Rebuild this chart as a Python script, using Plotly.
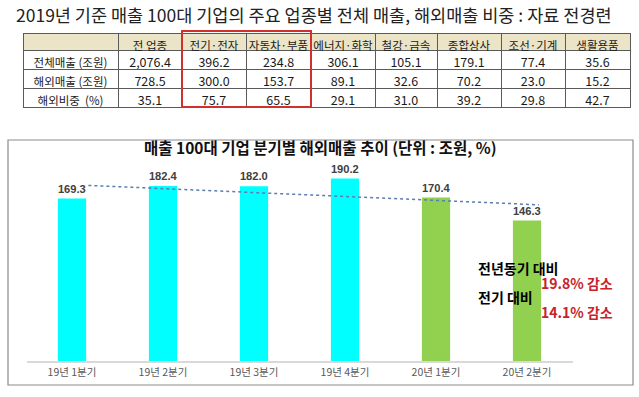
import numpy as np
import plotly.graph_objects as go

W, H = 639, 397

# ---------------- data ----------------
sectors = ["전 업종", "전기·전자", "자동차·부품", "에너지·화학", "철강·금속", "종합상사", "조선·기계", "생활용품"]
row_labels = ["전체매출 (조원)", "해외매출 (조원)", "해외비중  (%)"]
total_sales = [2076.4, 396.2, 234.8, 306.1, 105.1, 179.1, 77.4, 35.6]
overseas_sales = [728.5, 300.0, 153.7, 89.1, 32.6, 70.2, 23.0, 15.2]
overseas_share = [35.1, 75.7, 65.5, 29.1, 31.0, 39.2, 29.8, 42.7]

quarters = ["19년 1분기", "19년 2분기", "19년 3분기", "19년 4분기", "20년 1분기", "20년 2분기"]
quarter_values = [169.3, 182.4, 182.0, 190.2, 170.4, 146.3]
quarter_years = [2019, 2019, 2019, 2019, 2020, 2020]

note_labels = ["전년동기 대비", "전기 대비"]
note_values = ["19.8% 감소", "14.1% 감소"]

top_title = "2019년 기준 매출 100대 기업의 주요 업종별 전체 매출, 해외매출 비중 : 자료 전경련"
chart_title = "매출 100대 기업 분기별 해외매출 추이 (단위 : 조원, %)"


def px(x):
    return x / W


def py(y):
    return 1 - y / H


KR = "Noto Sans CJK KR"

fig = go.Figure()

# ---------------- table ----------------
col_widths = [95, 64, 64, 65, 64, 62, 64, 64, 65]
header_vals = [""] + sectors
cell_vals = [row_labels] + [
    [f"{t:,.1f}", f"{o:,.1f}", f"{s:.1f}"]
    for t, o, s in zip(total_sales, overseas_sales, overseas_share)
]

fig.add_trace(go.Table(
    domain=dict(x=[px(23), px(630)], y=[py(108), py(33)]),
    columnwidth=col_widths,
    header=dict(
        values=header_vals,
        fill_color="#ECE4C6",
        line=dict(color="#5a5a5a", width=1),
        font=dict(family=KR, size=11.5, color="#1a1a1a"),
        align="center",
        height=17,
    ),
    cells=dict(
        values=cell_vals,
        fill_color="white",
        line=dict(color="#5a5a5a", width=1),
        font=dict(family=KR, size=[11.5] + [12.5] * len(sectors), color="#1a1a1a"),
        align="center",
        height=19,
    ),
))

# ---------------- bar chart ----------------
idx = list(range(len(quarters)))
bar_colors = ["#00FFFF" if yr == 2019 else "#92D050" for yr in quarter_years]

fig.add_trace(go.Bar(
    x=idx, y=quarter_values,
    marker=dict(color=bar_colors, line=dict(width=0)),
    texttemplate="<b>%{y:.1f}</b>", textposition="outside",
    textfont=dict(family="Liberation Sans", size=12, color="#404040"),
    cliponaxis=False, width=0.31,
    hoverinfo="skip", showlegend=False,
))

coef = np.polyfit(idx, quarter_values, 1)
trend_x = np.array([0.18, 5.13])
fig.add_trace(go.Scatter(
    x=trend_x, y=np.polyval(coef, trend_x), mode="lines",
    line=dict(color="#5b7db1", width=1.5, dash="dot"),
    hoverinfo="skip", showlegend=False,
))

fig.update_layout(
    width=W, height=H,
    margin=dict(l=0, r=0, t=0, b=0),
    paper_bgcolor="white", plot_bgcolor="white",
    showlegend=False,
    xaxis=dict(
        domain=[px(26.5), px(572.5)], range=[-0.5, 5.5],
        tickvals=idx, ticktext=quarters,
        showline=True, linecolor="#d9d9d9", linewidth=2,
        showgrid=False, zeroline=False, ticks="",
        tickfont=dict(family=KR, size=10.5, color="#595959"),
        fixedrange=True,
    ),
    yaxis=dict(
        domain=[py(361), py(169)], range=[0, 200],
        visible=False, fixedrange=True,
    ),
    shapes=[
        # chart frame
        dict(type="rect", xref="paper", yref="paper",
             x0=px(8), x1=px(633), y0=py(385), y1=py(140),
             line=dict(color="#8c8c8c", width=1.2), layer="below"),
        # red highlight box on table
        dict(type="rect", xref="paper", yref="paper",
             x0=px(182), x1=px(311), y0=py(107), y1=py(31),
             line=dict(color="#d0312d", width=2), layer="above"),
    ],
    annotations=[
        dict(text=top_title, x=px(314), y=py(15), xref="paper", yref="paper",
             showarrow=False, xanchor="center", yanchor="middle",
             font=dict(family=KR, size=17.5, color="#222222")),
        dict(text=f"<b>{chart_title}</b>", x=px(320), y=py(147), xref="paper", yref="paper",
             showarrow=False, xanchor="center", yanchor="middle",
             font=dict(family=KR, size=15.5, color="#111111")),
        dict(text=f"<b>{note_labels[0]}</b>", x=px(476), y=py(268), xref="paper", yref="paper",
             showarrow=False, xanchor="left", yanchor="middle",
             font=dict(family=KR, size=14, color="#000000")),
        dict(text=f"<b>{note_values[0]}</b>", x=px(539), y=py(283), xref="paper", yref="paper",
             showarrow=False, xanchor="left", yanchor="middle",
             font=dict(family=KR, size=14, color="#c8232a")),
        dict(text=f"<b>{note_labels[1]}</b>", x=px(476), y=py(297), xref="paper", yref="paper",
             showarrow=False, xanchor="left", yanchor="middle",
             font=dict(family=KR, size=14, color="#000000")),
        dict(text=f"<b>{note_values[1]}</b>", x=px(539), y=py(312), xref="paper", yref="paper",
             showarrow=False, xanchor="left", yanchor="middle",
             font=dict(family=KR, size=14, color="#c8232a")),
    ],
)

fig.write_html(
    "out.html",
    config=dict(displayModeBar=False, staticPlot=True),
    post_script="document.body.style.margin='0';document.body.style.overflow='hidden';",
)
